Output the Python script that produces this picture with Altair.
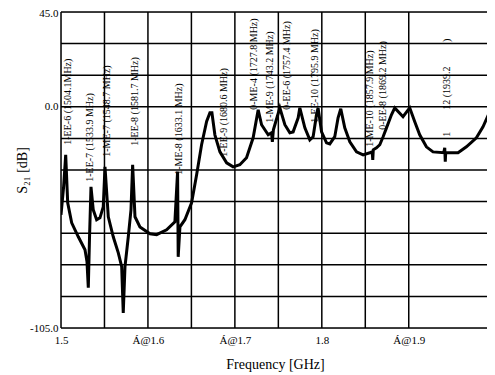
import altair as alt
import pandas as pd

# S21 curve (frequency in GHz, level in dB)
freq = [1.5000, 1.5030, 1.5054, 1.5077, 1.5123, 1.5199, 1.5276, 1.5299, 1.5314, 1.5328,
        1.5345, 1.5371, 1.5410, 1.5448, 1.5486, 1.5506, 1.5544, 1.5601, 1.5659, 1.5698,
        1.5716, 1.5736, 1.5774, 1.5805, 1.5824, 1.5851, 1.5908, 1.6023, 1.6100, 1.6215,
        1.6310, 1.6341, 1.6348, 1.6368, 1.6425, 1.6502, 1.6560, 1.6617, 1.6675, 1.6713,
        1.6736, 1.6770, 1.6828, 1.6905, 1.6980, 1.7057, 1.7134, 1.7210, 1.7268, 1.7307,
        1.7383, 1.7422, 1.7431, 1.7443, 1.7460, 1.7517, 1.7575, 1.7632, 1.7670, 1.7728,
        1.7747, 1.7805, 1.7862, 1.7900, 1.7939, 1.7957, 1.7997, 1.8054, 1.8092, 1.8149,
        1.8187, 1.8218, 1.8264, 1.8322, 1.8399, 1.8475, 1.8552, 1.8580, 1.8586, 1.8592,
        1.8629, 1.8667, 1.8705, 1.8744, 1.8801, 1.8839, 1.8934, 1.9011, 1.9069, 1.9126,
        1.9203, 1.9279, 1.9402, 1.9414, 1.9420, 1.9425, 1.9567, 1.9663, 1.9778, 1.9854,
        1.9951, 1.9989]
s21 = [-51.3, -38.0, -22.8, -45.6, -55.1, -61.7, -67.9, -73.6, -85.9, -62.0,
       -38.0, -48.9, -53.6, -52.7, -47.5, -28.5, -52.2, -61.7, -69.3, -75.9,
       -97.8, -75.9, -61.7, -48.9, -27.5, -52.2, -57.0, -60.3, -60.7, -58.4,
       -54.6, -30.8, -71.2, -57.0, -53.6, -45.6, -32.3, -18.0, -7.0, -2.8,
       -2.8, -13.3, -21.4, -26.6, -28.5, -27.5, -24.2, -14.7, -1.4, -8.5,
       -13.3, -12.3, -16.6, -10.9, -8.5, -0.5, -8.5, -12.3, -11.9, -5.2,
       -0.5, -10.0, -15.7, -14.2, -3.8, -0.5, -11.9, -17.1, -17.6, -14.2,
       -5.2, -0.9, -10.0, -16.6, -21.4, -22.8, -21.8, -21.4, -25.2, -20.4,
       -19.5, -18.0, -14.2, -10.0, -3.8, -0.5, -4.7, -0.5, -7.1, -13.3,
       -19.0, -21.4, -21.8, -19.5, -26.1, -21.8, -21.8, -19.0, -14.7, -9.5,
       -0.5, 3.3]

# Mode annotations (rotated text), anchored at the start (bottom) of the text
ann_text = ["1-EE-6 (1504.1MHz)", "1-EE-7 (1533.9 MHz)", "1-ME-7 (1548.7 MHz)",
            "1-EE-8 (1581.7 MHz)", "1-ME-8 (1633.1 MHz)", "1-EE-9 (1680.6 MHz)",
            "0-ME-4 (1727.8 MHz)", "1-ME-9 (1743.2 MHz)", "0-EE-6 (1757.4 MHz)",
            "1-EE-10 (1795.9 MHz)", "1-ME-10 (1857.9 MHz)", "0-EE-8 (1869.2 MHz)",
            "1", "12 (1939.2", ")"]
ann_freq = [1.5080, 1.5328, 1.5529, 1.5851, 1.6356, 1.6874, 1.7218, 1.7402, 1.7598,
            1.7920, 1.8552, 1.8701, 1.9437, 1.9437, 1.9437]
ann_db = [-18.0, -35.6, -23.7, -18.5, -32.3, -23.7, -1.4, -7.6, -1.4,
          -7.6, -19.0, -10.9, -14.2, -1.4, 30.8]

x_grid = [1.5, 1.55, 1.6, 1.65, 1.7, 1.75, 1.8, 1.85, 1.9]
x_tick_values = [1.5, 1.6, 1.7, 1.8, 1.9]
x_labels = ["1.5", "Á@1.6", "Á@1.7", "1.8", "Á@1.9"]
y_grid = [-105, -90, -75, -60, -45, -30, -15, 0, 15, 30, 45]
y_tick_values = [45, 0, -105]
y_labels = ["45.0", "0.0", "-105.0"]

FONT = "Liberation Serif"

x_expr = " : ".join(
    f"abs(datum.value - {v}) < 0.001 ? '{t}'" for v, t in zip(x_tick_values, x_labels)
) + " : ''"
y_expr = " : ".join(
    f"abs(datum.value - ({v})) < 0.01 ? '{t}'" for v, t in zip(y_tick_values, y_labels)
) + " : ''"

curve = pd.DataFrame({"f": freq, "s": s21})
ann = pd.DataFrame({"f": ann_freq, "s": ann_db, "t": ann_text})
xg = pd.DataFrame({"f": x_grid})
yg = pd.DataFrame({"s": y_grid})

xscale = alt.Scale(domain=[1.5, 1.99], nice=False, zero=False)
yscale = alt.Scale(domain=[-105, 45], nice=False, zero=False)

x_axis = alt.Axis(values=x_tick_values, labelExpr=x_expr, grid=False,
                  ticks=False, tickSize=0, domain=False,
                  labelFont=FONT, labelFontSize=11, labelColor="black",
                  labelPadding=6, labelFlush=False, labelOverlap=False,
                  titleFont=FONT, titleFontSize=14, titleFontWeight="normal",
                  titleColor="black", titleX=214, titleY=36,
                  titleBaseline="middle", titleAnchor="start", titleAlign="center")
y_axis = alt.Axis(values=y_tick_values, labelExpr=y_expr, grid=False,
                  ticks=False, tickSize=0, domain=False,
                  labelFont=FONT, labelFontSize=11, labelColor="black",
                  labelPadding=3, labelFlush=False, labelOverlap=False,
                  labelOffset={"condition": {"test": "datum.value == 45", "value": 1}, "value": 0},
                  titleFont=FONT, titleFontSize=14, titleFontWeight="normal",
                  titleColor="black", titleX=-39, titleY=158, titleAngle=270,
                  titleBaseline="middle", titleAlign="center")

vgrid = alt.Chart(xg).mark_rule(color="black", strokeWidth=1.5).encode(
    x=alt.X("f:Q", scale=xscale, axis=x_axis, title="Frequency [GHz]"),
)
hgrid = alt.Chart(yg).mark_rule(color="black", strokeWidth=1.5).encode(
    y=alt.Y("s:Q", scale=yscale, axis=y_axis, title="S₂₁ [dB]"),
)

texts = alt.Chart(ann).mark_text(angle=270, align="left", baseline="middle",
                                 font=FONT, fontSize=10, color="black").encode(
    x=alt.X("f:Q", scale=xscale),
    y=alt.Y("s:Q", scale=yscale),
    text="t:N",
)

line = alt.Chart(curve).mark_line(color="black", strokeWidth=3, clip=True,
                                  strokeJoin="miter", strokeMiterLimit=4).encode(
    x=alt.X("f:Q", scale=xscale),
    y=alt.Y("s:Q", scale=yscale),
)

chart = alt.layer(vgrid, hgrid, texts, line).properties(
    width=426, height=316,
    autosize=alt.AutoSizeParams(type="none"),
    padding={"left": 53, "top": 4, "right": 0, "bottom": 44},
).configure_view(stroke=None).configure(background="white")

chart.save("out.html", embed_options={"renderer": "svg", "actions": False})
